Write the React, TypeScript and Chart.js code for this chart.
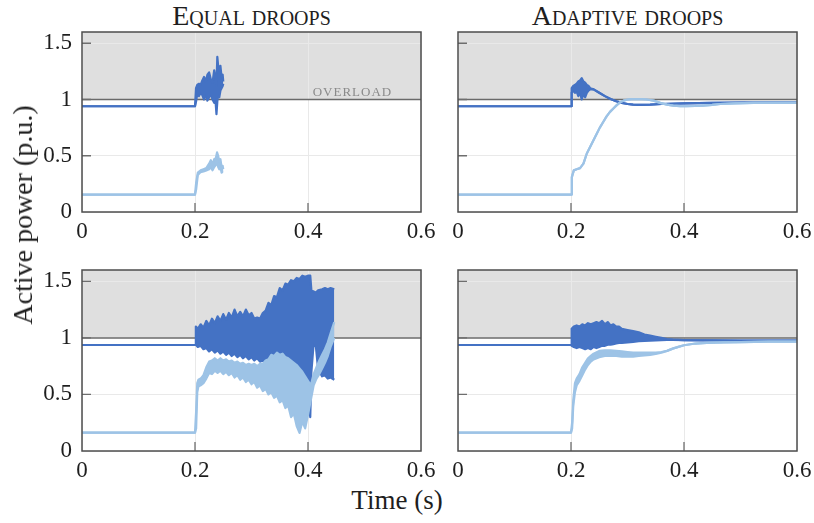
import React, { useEffect, useRef } from "react";
import { Chart, registerables } from "chart.js";

Chart.register(...registerables);

// ---------- axes ----------
const X_TICKS = [0, 0.2, 0.4, 0.6];
const Y_TICKS = [0, 0.5, 1, 1.5];
const X_MAX = 0.6;
const Y_MAX = 1.6;
const OVERLOAD_LEVEL = 1;
const OVERLOAD_LABEL_AT = 0.549;
const COL_TITLES = ["Equal droops", "Adaptive droops"];
const X_LABEL = "Time (s)";
const Y_LABEL = "Active power (p.u.)";
const OVERLOAD_TEXT = "OVERLOAD";

// ---------- Equal droops, top ----------
const TL_DARK_T = [0, 0.2, 0.2018, 0.204, 0.207, 0.21, 0.213, 0.216, 0.219, 0.222, 0.225, 0.228, 0.231, 0.234, 0.236, 0.238, 0.2395, 0.241, 0.243, 0.245, 0.247, 0.249, 0.25];
const TL_DARK_HI = [0.94, 0.94, 1.1, 1.13, 1.14, 1.13, 1.17, 1.2, 1.16, 1.22, 1.24, 1.18, 1.15, 1.26, 1.2, 1.12, 1.38, 1.3, 1.26, 1.3, 1.2, 1.22, 1.16];
const TL_DARK_LO = [0.94, 0.94, 0.98, 1.05, 1.03, 1.06, 1.04, 1.0, 1.05, 0.99, 1.02, 1.05, 1.0, 0.97, 1.01, 0.87, 0.98, 1.05, 1.02, 1.08, 1.1, 1.12, 1.14];
const TL_LIGHT_T = [0, 0.2, 0.202, 0.205, 0.21, 0.215, 0.22, 0.225, 0.228, 0.231, 0.234, 0.237, 0.239, 0.241, 0.243, 0.245, 0.247, 0.249, 0.25];
const TL_LIGHT_HI = [0.155, 0.155, 0.26, 0.35, 0.37, 0.38, 0.39, 0.43, 0.46, 0.42, 0.47, 0.48, 0.53, 0.5, 0.45, 0.47, 0.4, 0.41, 0.38];
const TL_LIGHT_LO = [0.155, 0.155, 0.2, 0.33, 0.355, 0.36, 0.37, 0.38, 0.4, 0.37, 0.4, 0.42, 0.44, 0.4, 0.38, 0.4, 0.35, 0.36, 0.36];

// ---------- Adaptive droops, top ----------
const TR_DARK_T = [0, 0.2, 0.2012, 0.204, 0.207, 0.21, 0.213, 0.216, 0.219, 0.222, 0.225, 0.228, 0.231, 0.234, 0.24, 0.25, 0.26, 0.27, 0.28, 0.29, 0.3, 0.31, 0.32, 0.34, 0.36, 0.4, 0.45, 0.5, 0.6];
const TR_DARK_HI = [0.94, 0.94, 1.1, 1.12, 1.13, 1.14, 1.16, 1.17, 1.19, 1.16, 1.15, 1.13, 1.12, 1.1, 1.09, 1.06, 1.03, 1.005, 0.985, 0.97, 0.96, 0.955, 0.953, 0.955, 0.96, 0.965, 0.97, 0.972, 0.972];
const TR_DARK_LO = [0.94, 0.94, 1.06, 1.08, 1.06, 1.07, 1.03, 1.06, 1.0, 1.05, 1.02, 1.06, 1.08, 1.09, 1.09, 1.06, 1.03, 1.005, 0.985, 0.97, 0.96, 0.955, 0.953, 0.955, 0.96, 0.965, 0.97, 0.972, 0.972];
const TR_LIGHT_T = [0, 0.2, 0.2015, 0.205, 0.21, 0.216, 0.222, 0.228, 0.234, 0.24, 0.246, 0.251, 0.257, 0.263, 0.269, 0.275, 0.281, 0.287, 0.293, 0.2985, 0.307, 0.316, 0.325, 0.334, 0.346, 0.358, 0.37, 0.381, 0.393, 0.405, 0.42, 0.434, 0.45, 0.464, 0.49, 0.523, 0.56, 0.6];
const TR_LIGHT = [0.155, 0.155, 0.31, 0.37, 0.38, 0.39, 0.43, 0.52, 0.58, 0.64, 0.7, 0.75, 0.8, 0.85, 0.89, 0.92, 0.95, 0.975, 0.99, 0.998, 1.003, 1.004, 1.003, 1.0, 0.99, 0.97, 0.955, 0.946, 0.941, 0.94, 0.942, 0.946, 0.952, 0.96, 0.965, 0.97, 0.97, 0.97];

// ---------- Equal droops, bottom ----------
const BL_DARK_T = [0, 0.2, 0.2015,
  0.205, 0.21, 0.215, 0.22, 0.225, 0.23, 0.235, 0.24, 0.245, 0.25,
  0.255, 0.26, 0.265, 0.27, 0.275, 0.28, 0.285, 0.29, 0.295, 0.3,
  0.305, 0.31, 0.315, 0.32, 0.325, 0.33, 0.335, 0.34, 0.345, 0.35,
  0.355, 0.36, 0.365, 0.37, 0.375, 0.38, 0.385, 0.39, 0.395, 0.4,
  0.404, 0.406, 0.41, 0.414, 0.418, 0.425, 0.43, 0.435, 0.44, 0.4465];
const BL_DARK_HI = [0.937, 0.937, 1.1,
  1.08, 1.12, 1.09, 1.15, 1.11, 1.17, 1.13, 1.19, 1.15, 1.21,
  1.16, 1.22, 1.18, 1.25, 1.19, 1.23, 1.19, 1.25, 1.2, 1.22,
  1.17, 1.18, 1.17, 1.22, 1.24, 1.31, 1.29, 1.37, 1.36, 1.44,
  1.42, 1.48, 1.47, 1.51, 1.5, 1.53, 1.52, 1.55, 1.54, 1.55,
  1.55, 1.42, 1.41, 1.4, 1.42, 1.43, 1.44, 1.43, 1.44, 1.43];
const BL_DARK_LO = [0.937, 0.937, 0.94,
  0.92, 0.93, 0.9, 0.91, 0.88, 0.9, 0.87, 0.89, 0.86, 0.88,
  0.85, 0.87, 0.84, 0.86, 0.83, 0.85, 0.82, 0.84, 0.81, 0.83,
  0.8, 0.82, 0.79, 0.8, 0.77, 0.78, 0.75, 0.76, 0.73, 0.74,
  0.71, 0.72, 0.69, 0.7, 0.67, 0.68, 0.64, 0.64, 0.58, 0.5,
  0.3, 0.7, 0.95, 0.92, 0.72, 0.66, 0.67, 0.64, 0.65, 0.63];
const BL_LIGHT_T = [0, 0.2, 0.202, 0.204, 0.206, 0.21, 0.215,
  0.22, 0.225, 0.23, 0.235, 0.24, 0.245, 0.25, 0.255, 0.26, 0.265,
  0.27, 0.275, 0.28, 0.285, 0.29, 0.295, 0.3, 0.305, 0.31, 0.315,
  0.32, 0.325, 0.33, 0.335, 0.34, 0.345, 0.35, 0.355, 0.36, 0.365,
  0.37, 0.375, 0.38, 0.385, 0.39, 0.395, 0.4,
  0.405, 0.41, 0.415, 0.42, 0.425, 0.43, 0.435, 0.44, 0.4465];
const BL_LIGHT_HI = [0.162, 0.162, 0.35, 0.6, 0.63, 0.64, 0.67,
  0.74, 0.79, 0.8, 0.82, 0.8, 0.82, 0.8, 0.81, 0.79, 0.8,
  0.78, 0.79, 0.77, 0.78, 0.76, 0.77, 0.76, 0.77, 0.75, 0.77,
  0.77, 0.8, 0.81, 0.85, 0.84, 0.87, 0.85, 0.86, 0.83, 0.82,
  0.8, 0.78, 0.76, 0.73, 0.7, 0.66, 0.62,
  0.58, 0.68, 0.74, 0.8, 0.85, 0.9, 0.96, 1.04, 1.14];
const BL_LIGHT_LO = [0.162, 0.162, 0.2, 0.52, 0.57, 0.58, 0.6,
  0.64, 0.69, 0.68, 0.71, 0.69, 0.71, 0.68, 0.7, 0.67, 0.69,
  0.65, 0.67, 0.63, 0.65, 0.61, 0.63, 0.59, 0.61, 0.56, 0.58,
  0.53, 0.55, 0.5, 0.52, 0.47, 0.49, 0.43, 0.45, 0.38, 0.4,
  0.3, 0.33, 0.22, 0.16, 0.26, 0.2, 0.32,
  0.45, 0.58, 0.64, 0.68, 0.73, 0.78, 0.84, 0.92, 1.0];

// ---------- Adaptive droops, bottom ----------
const BR_DARK_T = [0, 0.2, 0.2012, 0.205, 0.21, 0.215, 0.22, 0.225, 0.23, 0.235, 0.24, 0.245, 0.25, 0.255, 0.26, 0.265, 0.27, 0.275, 0.28, 0.285, 0.29, 0.3, 0.31, 0.32, 0.33, 0.34, 0.35, 0.36, 0.37, 0.38, 0.4, 0.45, 0.5, 0.6];
const BR_DARK_HI = [0.937, 0.937, 1.08, 1.1, 1.11, 1.1, 1.12, 1.11, 1.13, 1.12, 1.13, 1.14, 1.13, 1.15, 1.12, 1.14, 1.11, 1.12, 1.1, 1.1, 1.08, 1.07, 1.06, 1.05, 1.03, 1.02, 1.01, 1.0, 0.99, 0.985, 0.98, 0.978, 0.975, 0.975];
const BR_DARK_LO = [0.937, 0.937, 0.93, 0.92, 0.91, 0.92, 0.91, 0.9, 0.91, 0.9, 0.92, 0.91, 0.92, 0.93, 0.93, 0.94, 0.94, 0.945, 0.95, 0.955, 0.955, 0.96, 0.965, 0.97, 0.973, 0.976, 0.978, 0.98, 0.982, 0.982, 0.98, 0.978, 0.975, 0.975];
const BR_LIGHT_T = [0, 0.2, 0.202, 0.204, 0.207, 0.21, 0.215, 0.22, 0.225, 0.23, 0.235, 0.24, 0.25, 0.26, 0.27, 0.28, 0.29, 0.3, 0.31, 0.32, 0.33, 0.34, 0.35, 0.36, 0.37, 0.38, 0.39, 0.4, 0.42, 0.44, 0.47, 0.5, 0.55, 0.6];
const BR_LIGHT_HI = [0.162, 0.162, 0.25, 0.45, 0.6, 0.64, 0.68, 0.74, 0.78, 0.82, 0.84, 0.86, 0.885, 0.89, 0.89, 0.885, 0.88, 0.875, 0.87, 0.87, 0.87, 0.87, 0.87, 0.875, 0.885, 0.905, 0.92, 0.935, 0.95, 0.955, 0.96, 0.963, 0.966, 0.967];
const BR_LIGHT_LO = [0.162, 0.162, 0.2, 0.4, 0.52, 0.58, 0.62, 0.67, 0.72, 0.76, 0.79, 0.81, 0.83, 0.84, 0.84, 0.84, 0.835, 0.835, 0.835, 0.84, 0.845, 0.85, 0.858, 0.87, 0.885, 0.905, 0.92, 0.935, 0.95, 0.955, 0.96, 0.963, 0.966, 0.967];

// ---------- style ----------
const DARK = "#4472c4";
const LIGHT = "#9dc3e6";
const GRID = "#e9e9e9";
const OVERLOAD_FILL = "#dfdfdf";
const SERIF = "'Liberation Serif', 'Times New Roman', serif";
const CANVAS_W = 405;
const Y_AXIS_W = 50;
const X_AXIS_H = 30;
const PAD_TOP = 4;
const PAD_RIGHT = 16;

type PanelData = {
  tDark: number[]; darkHi: number[]; darkLo: number[];
  tLight: number[]; lightHi: number[]; lightLo: number[];
};

const PANELS: { data: PanelData; left: number; top: number; plotH: number; showY: boolean; overload: boolean }[] = [
  { data: { tDark: TL_DARK_T, darkHi: TL_DARK_HI, darkLo: TL_DARK_LO, tLight: TL_LIGHT_T, lightHi: TL_LIGHT_HI, lightLo: TL_LIGHT_LO }, left: 32, top: 28, plotH: 180, showY: true, overload: true },
  { data: { tDark: TR_DARK_T, darkHi: TR_DARK_HI, darkLo: TR_DARK_LO, tLight: TR_LIGHT_T, lightHi: TR_LIGHT, lightLo: TR_LIGHT }, left: 408, top: 28, plotH: 180, showY: false, overload: false },
  { data: { tDark: BL_DARK_T, darkHi: BL_DARK_HI, darkLo: BL_DARK_LO, tLight: BL_LIGHT_T, lightHi: BL_LIGHT_HI, lightLo: BL_LIGHT_LO }, left: 32, top: 266, plotH: 181, showY: true, overload: false },
  { data: { tDark: BR_DARK_T, darkHi: BR_DARK_HI, darkLo: BR_DARK_LO, tLight: BR_LIGHT_T, lightHi: BR_LIGHT_HI, lightLo: BR_LIGHT_LO }, left: 408, top: 266, plotH: 181, showY: false, overload: false },
];

function pts(t: number[], v: number[]) {
  return t.map((x, i) => ({ x, y: v[i] }));
}

function makeDecor(showOverload: boolean) {
  return {
    id: "panelDecor",
    beforeDraw(chart: any) {
      const { ctx, chartArea: a, scales } = chart;
      const yl = scales.y.getPixelForValue(OVERLOAD_LEVEL);
      ctx.save();
      ctx.fillStyle = OVERLOAD_FILL;
      ctx.fillRect(a.left, a.top, a.right - a.left, yl - a.top);
      ctx.restore();
    },
    afterDraw(chart: any) {
      const { ctx, chartArea: a, scales } = chart;
      const xs = scales.x, ys = scales.y;
      ctx.save();
      ctx.strokeStyle = "#6e6e6e";
      ctx.lineWidth = 1.3;
      ctx.beginPath();
      for (const v of Y_TICKS) {
        if (v <= 0 || v >= Y_MAX) continue;
        const py = ys.getPixelForValue(v);
        ctx.moveTo(a.left, py);
        ctx.lineTo(a.left + 9, py);
      }
      for (const v of X_TICKS) {
        if (v <= 0 || v >= X_MAX) continue;
        const px = xs.getPixelForValue(v);
        ctx.moveTo(px, a.bottom);
        ctx.lineTo(px, a.bottom - 9);
      }
      ctx.stroke();
      ctx.strokeStyle = "#4d4d4d";
      ctx.lineWidth = 1.5;
      ctx.strokeRect(a.left, a.top, a.right - a.left, a.bottom - a.top);
      if (showOverload) {
        ctx.font = `13px ${SERIF}`;
        (ctx as any).letterSpacing = "1px";
        ctx.fillStyle = "#8a8a8a";
        ctx.textAlign = "right";
        ctx.textBaseline = "alphabetic";
        ctx.fillText(OVERLOAD_TEXT, xs.getPixelForValue(OVERLOAD_LABEL_AT), ys.getPixelForValue(OVERLOAD_LEVEL) - 4);
      }
      ctx.restore();
    },
  };
}

function Panel(props: { data: PanelData; left: number; top: number; plotH: number; showY: boolean; overload: boolean }) {
  const { data, left, top, plotH, showY, overload } = props;
  const ref = useRef<HTMLCanvasElement>(null);
  const height = PAD_TOP + plotH + X_AXIS_H;

  useEffect(() => {
    if (!ref.current) return;
    const line = { pointRadius: 0, borderWidth: 2.2, tension: 0, borderJoinStyle: "round" as const };
    const font = { family: SERIF, size: 23 };
    const chart = new Chart(ref.current, {
      type: "line",
      data: {
        datasets: [
          { data: pts(data.tLight, data.lightHi), borderColor: LIGHT, backgroundColor: LIGHT, fill: "+1", ...line },
          { data: pts(data.tLight, data.lightLo), borderColor: LIGHT, backgroundColor: LIGHT, fill: false, ...line },
          { data: pts(data.tDark, data.darkHi), borderColor: DARK, backgroundColor: DARK, fill: "+1", ...line },
          { data: pts(data.tDark, data.darkLo), borderColor: DARK, backgroundColor: DARK, fill: false, ...line },
          {
            data: [{ x: 0, y: OVERLOAD_LEVEL }, { x: X_MAX, y: OVERLOAD_LEVEL }],
            borderColor: "#6a6a6a", borderWidth: 1.5, pointRadius: 0, fill: false,
          },
        ],
      },
      options: {
        animation: false,
        responsive: false,
        events: [],
        layout: { padding: { top: PAD_TOP, right: PAD_RIGHT, bottom: 0, left: 0 } },
        plugins: { legend: { display: false }, tooltip: { enabled: false } },
        scales: {
          x: {
            type: "linear",
            min: 0,
            max: X_MAX,
            afterBuildTicks: (s: any) => { s.ticks = X_TICKS.map((value) => ({ value })); },
            afterFit: (s: any) => { s.height = X_AXIS_H; s.paddingLeft = 0; s.paddingRight = 0; },
            grid: { color: GRID, lineWidth: 1, drawTicks: false },
            border: { display: false },
            ticks: { padding: 6, font, color: "#1e1e1e", maxRotation: 0, autoSkip: false, callback: (v: any) => String(v) },
          },
          y: {
            type: "linear",
            min: 0,
            max: Y_MAX,
            afterBuildTicks: (s: any) => { s.ticks = Y_TICKS.map((value) => ({ value })); },
            afterFit: (s: any) => { s.width = Y_AXIS_W; s.paddingTop = 0; s.paddingBottom = 0; },
            grid: { color: GRID, lineWidth: 1, drawTicks: false },
            border: { display: false },
            ticks: { display: showY, padding: 10, font, color: "#1e1e1e", autoSkip: false, callback: (v: any) => String(v) },
          },
        },
      },
      plugins: [makeDecor(overload)],
    } as any);
    return () => chart.destroy();
  }, []);

  return (
    <canvas
      ref={ref}
      width={CANVAS_W}
      height={height}
      style={{ position: "absolute", left, top, width: CANVAS_W, height }}
    />
  );
}

export default function App() {
  const titleStyle: React.CSSProperties = {
    position: "absolute",
    top: 1.5,
    transform: "translateX(-50%)",
    fontSize: 28,
    lineHeight: 1,
    fontVariant: "small-caps",
    whiteSpace: "nowrap",
  };
  return (
    <div
      style={{
        position: "absolute", left: 0, top: 0, width: 814, height: 523,
        background: "#ffffff", fontFamily: SERIF, color: "#1e1e1e", overflow: "hidden",
      }}
    >
      <div style={{ ...titleStyle, left: 251.5 }}>{COL_TITLES[0]}</div>
      <div style={{ ...titleStyle, left: 627.5 }}>{COL_TITLES[1]}</div>
      {PANELS.map((p, i) => (
        <Panel key={i} {...p} />
      ))}
      <div
        style={{
          position: "absolute", left: 23, top: 215, fontSize: 28, lineHeight: 1,
          transform: "translate(-50%, -50%) rotate(-90deg)", whiteSpace: "nowrap",
        }}
      >
        {Y_LABEL}
      </div>
      <div
        style={{
          position: "absolute", left: 397, top: 487, fontSize: 27, lineHeight: 1,
          transform: "translateX(-50%)", whiteSpace: "nowrap",
        }}
      >
        {X_LABEL}
      </div>
    </div>
  );
}
